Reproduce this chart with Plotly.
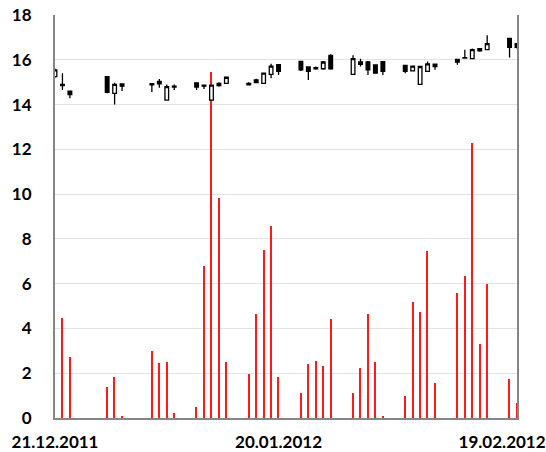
import plotly.graph_objects as go

dates = ["2011-12-21", "2011-12-22", "2011-12-23", "2011-12-28", "2011-12-29", "2011-12-30",
         "2012-01-03", "2012-01-04", "2012-01-05", "2012-01-06",
         "2012-01-09", "2012-01-10", "2012-01-11", "2012-01-12", "2012-01-13",
         "2012-01-16", "2012-01-17", "2012-01-18", "2012-01-19", "2012-01-20",
         "2012-01-23", "2012-01-24", "2012-01-25", "2012-01-26", "2012-01-27",
         "2012-01-30", "2012-01-31", "2012-02-01", "2012-02-02", "2012-02-03",
         "2012-02-06", "2012-02-07", "2012-02-08", "2012-02-09", "2012-02-10",
         "2012-02-13", "2012-02-14", "2012-02-15", "2012-02-16", "2012-02-17",
         "2012-02-20", "2012-02-21"]

opens = [15.25, 14.90, 14.60, 15.25, 14.50, 14.92,
         14.88, 15.03, 14.20, 14.78,
         14.97, 14.87, 14.20, 14.95, 14.95,
         14.95, 15.10, 14.95, 15.35, 15.78,
         15.93, 15.68, 15.60, 15.60, 16.20,
         15.35, 15.90, 15.90, 15.77, 15.92,
         15.75, 15.50, 14.90, 15.48, 15.80,
         16.02, 16.08, 16.05, 16.50, 16.45,
         16.95, 16.72]
highs = [15.60, 15.40, 14.62, 15.28, 14.97, 14.93,
         14.96, 15.14, 14.90, 14.90,
         14.98, 14.88, 14.90, 15.00, 15.25,
         15.00, 15.15, 15.42, 15.82, 15.80,
         15.95, 15.70, 15.70, 15.95, 16.25,
         16.20, 16.05, 15.95, 15.80, 15.95,
         15.78, 15.74, 15.72, 15.92, 15.82,
         16.05, 16.45, 16.50, 16.52, 17.10,
         16.97, 16.75]
lows = [15.20, 14.65, 14.28, 14.50, 14.00, 14.60,
        14.56, 14.75, 14.20, 14.65,
        14.65, 14.70, 14.20, 14.80, 14.95,
        14.85, 14.95, 14.93, 15.17, 15.32,
        15.50, 15.10, 15.55, 15.55, 15.55,
        15.33, 15.70, 15.32, 15.38, 15.32,
        15.40, 15.48, 14.87, 15.45, 15.55,
        15.78, 16.05, 16.02, 16.36, 16.43,
        16.10, 16.50]
closes = [15.55, 14.85, 14.45, 14.55, 14.90, 14.82,
          14.93, 14.92, 14.80, 14.82,
          14.78, 14.82, 14.87, 14.85, 15.22,
          14.88, 14.98, 15.40, 15.72, 15.48,
          15.55, 15.48, 15.65, 15.90, 15.60,
          16.05, 15.80, 15.55, 15.40, 15.48,
          15.48, 15.72, 15.70, 15.82, 15.70,
          15.90, 16.10, 16.45, 16.40, 16.72,
          16.55, 16.55]
volumes = [0.0, 4.45, 2.71, 1.37, 1.83, 0.08,
           2.98, 2.47, 2.50, 0.21,
           0.50, 6.79, 15.45, 9.84, 2.52,
           1.97, 4.65, 7.50, 8.58, 1.82,
           1.10, 2.43, 2.55, 2.32, 4.42,
           1.13, 2.23, 4.65, 2.49, 0.09,
           1.00, 5.17, 4.72, 7.46, 1.58,
           5.57, 6.33, 12.30, 3.32, 6.00,
           1.73, 0.68]

tick_dates = ["2011-12-21", "2012-01-20", "2012-02-19"]
tick_text = ["21.12.2011", "20.01.2012", "19.02.2012"]
y_ticks = [0, 2, 4, 6, 8, 10, 12, 14, 16, 18]

DAY_MS = 86400000
FONT = dict(family="Lato", size=17, color="#000000", weight="bold")

fig = go.Figure()
fig.add_trace(go.Bar(
    x=dates, y=volumes, width=[0.17 * DAY_MS] * len(dates),
    marker=dict(color="#ff1a1a", line=dict(width=0)),
    showlegend=False, hoverinfo="skip"))
fig.add_trace(go.Candlestick(
    x=dates, open=opens, high=highs, low=lows, close=closes,
    increasing=dict(fillcolor="#ffffff", line=dict(color="#000000", width=1.3)),
    decreasing=dict(fillcolor="#000000", line=dict(color="#000000", width=1.3)),
    whiskerwidth=0, showlegend=False))

fig.update_layout(
    width=546, height=452,
    margin=dict(l=55, r=29, t=15, b=34, autoexpand=False),
    paper_bgcolor="#ffffff", plot_bgcolor="#ffffff",
    font=FONT,
    showlegend=False,
    bargap=0,
    xaxis=dict(
        type="date", range=["2011-12-21", "2012-02-21"],
        rangeslider=dict(visible=False),
        tickvals=tick_dates, ticktext=tick_text, tickangle=0,
        showgrid=False, zeroline=False, automargin=False,
        ticklabeloverflow="allow",
        showline=True, linecolor="#868686", linewidth=2,
        ticks="", ticklabelstandoff=8, tickfont=FONT,
    ),
    yaxis=dict(
        range=[0, 18], tickvals=y_ticks,
        showgrid=True, gridcolor="#e3e3e3", gridwidth=1,
        zeroline=False, automargin=False,
        ticklabeloverflow="allow",
        showline=True, linecolor="#868686", linewidth=2, mirror=True,
        ticks="", ticklabelstandoff=18, tickfont=FONT,
    ),
)

fig.write_html(
    "out.html",
    config={"displayModeBar": False},
    post_script="document.body.style.margin='0';document.body.style.padding='0';"
                "document.body.style.overflow='hidden';",
)
